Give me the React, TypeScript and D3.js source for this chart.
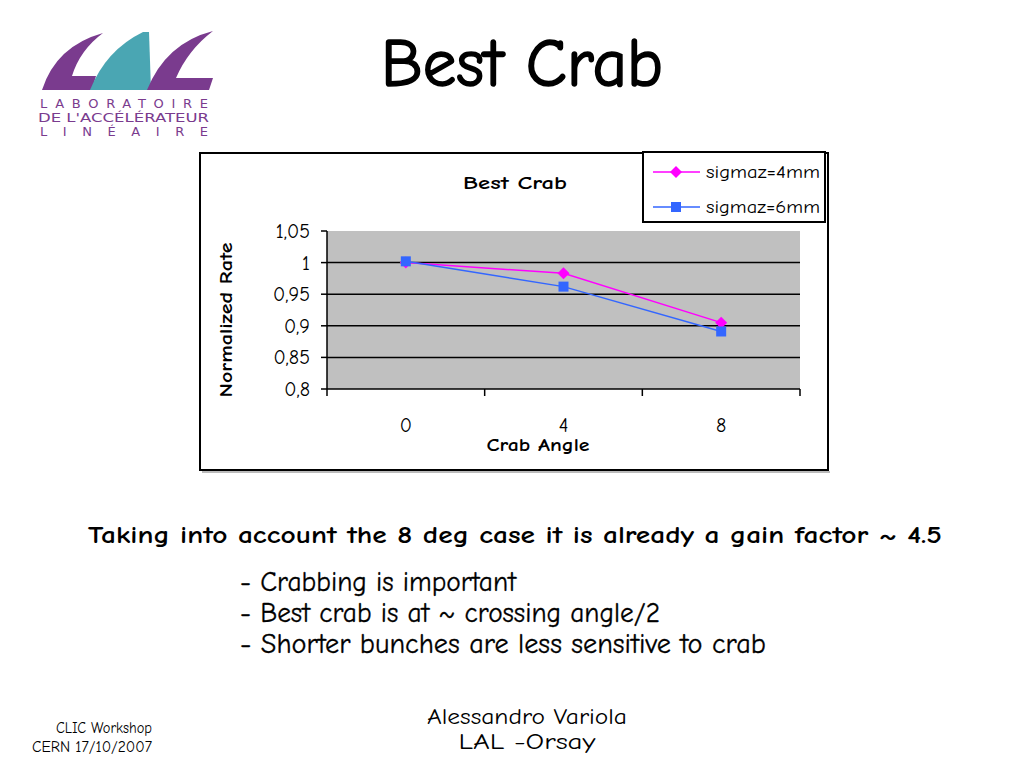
import * as d3 from "d3";

const categories = ["0", "4", "8"];
const sigma4 = [1.0, 0.983, 0.905];
const sigma6 = [1.002, 0.962, 0.891];
const seriesNames = ["sigmaz=4mm", "sigmaz=6mm"];
const seriesColors = ["#ff00ff", "#3366ff"];
const yTicks = [0.8, 0.85, 0.9, 0.95, 1, 1.05];
const bullets = [
  "- Crabbing is important",
  "- Best crab is at ~ crossing angle/2",
  "- Shorter bunches are less sensitive to crab",
];
const bulletWidths = [276, 420, 526];

const FONT = "'Comic Sans MS', 'Comic Neue', 'DejaVu Sans', sans-serif";
const PURPLE = "#7a3b8e";
const TEAL = "#4aa6b3";

const fmt = (v: number) => String(v).replace(".", ",");

const Logo = () => (
  <g>
    {/* left swoosh */}
    <path d="M 103 33 Q 56 46 42 90 L 92 90 L 96 76 L 72 76 Q 80 50 103 33 Z" fill={PURPLE} />
    {/* teal A */}
    <path d="M 143 32 L 149 32 L 151 90 L 90 90 Q 106 50 143 32 Z" fill={TEAL} />
    {/* right swoosh */}
    <path d="M 213 31 Q 166 43 147 90 L 209 90 L 213 78 L 176 78 Q 188 50 213 31 Z" fill={PURPLE} />
    <text x={40} y={108} fontFamily="'DejaVu Sans', sans-serif" fontSize={13} fill={PURPLE} textLength={168} lengthAdjust="spacing">LABORATOIRE</text>
    <text x={38} y={122} fontFamily="'DejaVu Sans', sans-serif" fontSize={13} fill={PURPLE} textLength={171} lengthAdjust="spacingAndGlyphs">DE L'ACCÉLÉRATEUR</text>
    <text x={40} y={136} fontFamily="'DejaVu Sans', sans-serif" fontSize={13} fill={PURPLE} textLength={168} lengthAdjust="spacing">LINÉAIRE</text>
  </g>
);

export default function App() {
  const plot = { left: 327, right: 800, top: 231, bottom: 389 };
  const x = d3.scaleBand<string>().domain(categories).range([plot.left, plot.right]);
  const y = d3.scaleLinear().domain([0.8, 1.05]).range([plot.bottom, plot.top]);
  const cx = (c: string) => (x(c) ?? 0) + x.bandwidth() / 2;
  const line = d3
    .line<number>()
    .x((_, i) => cx(categories[i]))
    .y((d) => y(d));
  const bandEdges = [...categories.map((c) => x(c) ?? 0), plot.right];
  const series = [sigma4, sigma6];

  const marker = (k: number, px: number, py: number, key: string) =>
    k === 0 ? (
      <path key={key} d={`M ${px} ${py - 6} L ${px + 6} ${py} L ${px} ${py + 6} L ${px - 6} ${py} Z`} fill={seriesColors[0]} />
    ) : (
      <rect key={key} x={px - 5} y={py - 5} width={10} height={10} fill={seriesColors[1]} />
    );

  return (
    <svg width={1024} height={768} style={{ position: "absolute", left: 0, top: 0, background: "#fff" }}>
      <Logo />
      <text x={522} y={86} textAnchor="middle" fontFamily={FONT} fontSize={68} fill="#000" stroke="#000" strokeWidth={1.6} textLength={282} lengthAdjust="spacingAndGlyphs">Best Crab</text>

      {/* chart frame */}
      <rect x={200} y={153} width={628} height={317} fill="#fff" stroke="#000" strokeWidth={2} />
      <line x1={202} y1={472} x2={830} y2={472} stroke="#bbb" strokeWidth={2} />
      <text x={515} y={189} textAnchor="middle" fontFamily={FONT} fontWeight="bold" fontSize={19} textLength={104} lengthAdjust="spacingAndGlyphs">Best Crab</text>

      {/* plot area */}
      <rect x={plot.left} y={plot.top} width={plot.right - plot.left} height={plot.bottom - plot.top} fill="#c0c0c0" />
      {yTicks.filter((t) => t > 0.8 && t < 1.05).map((t) => (
        <line key={t} x1={plot.left} x2={plot.right} y1={y(t)} y2={y(t)} stroke="#000" strokeWidth={1.5} />
      ))}
      <line x1={plot.left} x2={plot.left} y1={plot.top} y2={plot.bottom} stroke="#000" strokeWidth={1.5} />
      <line x1={plot.left} x2={plot.right} y1={plot.bottom} y2={plot.bottom} stroke="#000" strokeWidth={1.5} />
      {yTicks.map((t) => (
        <g key={t}>
          <line x1={plot.left - 6} x2={plot.left} y1={y(t)} y2={y(t)} stroke="#000" strokeWidth={1.5} />
          <text x={310} y={y(t) + 7} textAnchor="end" fontFamily={FONT} fontSize={20}>{fmt(t)}</text>
        </g>
      ))}
      {bandEdges.map((e, i) => (
        <line key={i} x1={e} x2={e} y1={plot.bottom} y2={plot.bottom + 7} stroke="#000" strokeWidth={1.5} />
      ))}
      {categories.map((c) => (
        <text key={c} x={cx(c)} y={432} textAnchor="middle" fontFamily={FONT} fontSize={20}>{c}</text>
      ))}
      <text x={538} y={451} textAnchor="middle" fontFamily={FONT} fontWeight="bold" fontSize={18} textLength={103} lengthAdjust="spacingAndGlyphs">Crab Angle</text>
      <text transform="translate(232,320) rotate(-90)" textAnchor="middle" fontFamily={FONT} fontWeight="bold" fontSize={18} textLength={155} lengthAdjust="spacingAndGlyphs">Normalized Rate</text>

      {/* series */}
      {series.map((s, k) => (
        <g key={k}>
          <path d={line(s) ?? ""} fill="none" stroke={seriesColors[k]} strokeWidth={1.5} />
          {s.map((v, i) => marker(k, cx(categories[i]), y(v), `${k}-${i}`))}
        </g>
      ))}

      {/* legend */}
      <rect x={643} y={152} width={182} height={70} fill="#fff" stroke="#000" strokeWidth={2} />
      {seriesNames.map((n, k) => {
        const ly = 172 + k * 35;
        return (
          <g key={n}>
            <line x1={653} x2={700} y1={ly} y2={ly} stroke={seriesColors[k]} strokeWidth={1.5} />
            {marker(k, 676, ly, `l${k}`)}
            <text x={706} y={ly + 6} fontFamily={FONT} fontSize={19} textLength={114} lengthAdjust="spacingAndGlyphs">{n}</text>
          </g>
        );
      })}

      {/* slide text */}
      <text x={88} y={543} fontFamily={FONT} fontWeight="bold" fontSize={25} textLength={854} lengthAdjust="spacingAndGlyphs">
        Taking into account the 8 deg case it is already a gain factor ~ 4.5
      </text>
      {bullets.map((b, i) => (
        <text key={i} x={240} y={591 + i * 31} fontFamily={FONT} fontSize={28} stroke="#000" strokeWidth={0.3} textLength={bulletWidths[i]} lengthAdjust="spacingAndGlyphs">{b}</text>
      ))}

      {/* footer */}
      <text x={152} y={733} textAnchor="end" fontFamily={FONT} fontSize={15} textLength={96} lengthAdjust="spacingAndGlyphs">CLIC Workshop</text>
      <text x={152} y={752} textAnchor="end" fontFamily={FONT} fontSize={15} textLength={120} lengthAdjust="spacingAndGlyphs">CERN 17/10/2007</text>
      <text x={527} y={724} textAnchor="middle" fontFamily={FONT} fontSize={23} textLength={200} lengthAdjust="spacingAndGlyphs">Alessandro Variola</text>
      <text x={527} y={749} textAnchor="middle" fontFamily={FONT} fontSize={23} textLength={137} lengthAdjust="spacingAndGlyphs">LAL -Orsay</text>
    </svg>
  );
}
